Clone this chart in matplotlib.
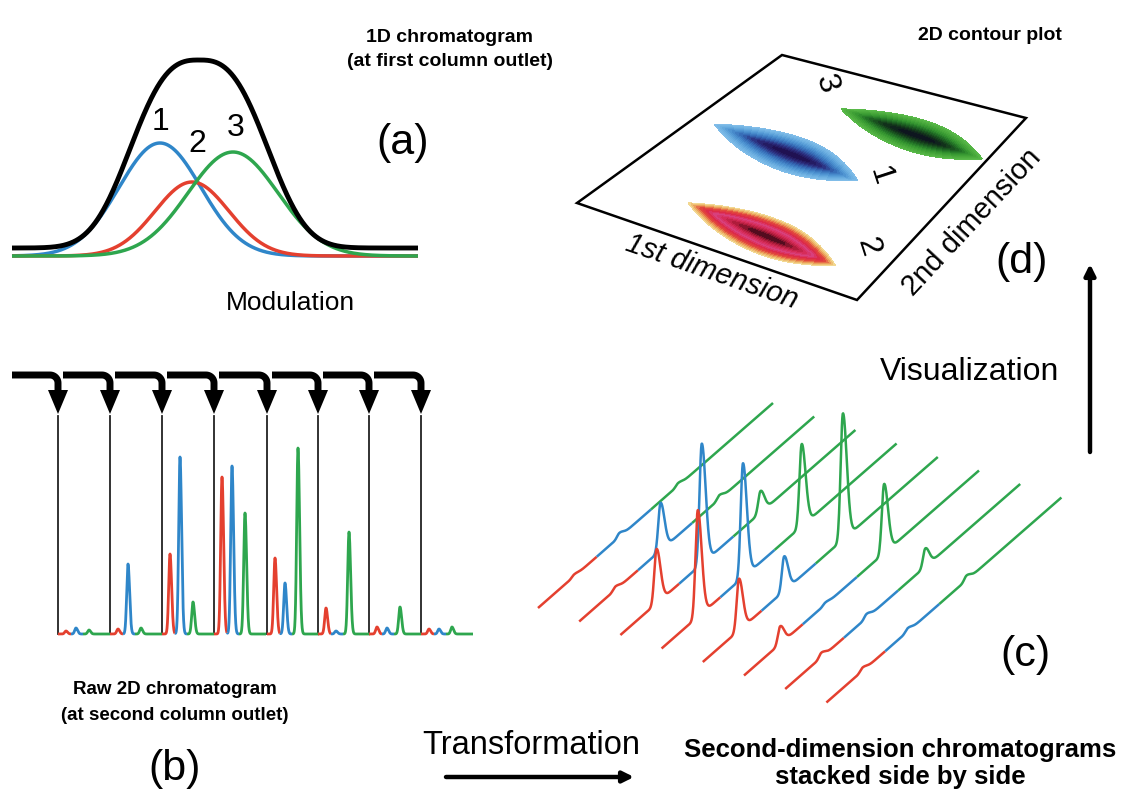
import numpy as np
import matplotlib
matplotlib.use("Agg")
import matplotlib.pyplot as plt
from matplotlib.patches import Polygon
from matplotlib.colors import LinearSegmentedColormap

W, H = 1125, 798
BLUE = "#2f86c9"
RED = "#e4402f"
GREEN = "#2ea64e"
FONT = "Liberation Sans"

# ---------------- (a) first-dimension chromatogram ----------------
a_labels = ["1", "2", "3"]
a_centers = [160, 192, 233]
a_heights = [113, 74, 104]
a_sigmas = [41, 37, 45]
a_colors = [BLUE, RED, GREEN]
total_center, total_height, total_hwhm, total_shape = 199, 188, 71, 2.8

# ---------------- (b) modulated raw 2D chromatogram ----------------
mod_x = [58, 110, 162, 214, 267, 318, 369, 421]
period = 52
comp_offsets = [8, 18, 31]          # red, blue, green retention inside a period
comp_split = [13, 25]               # colour changes inside a period
h_red = [3, 5, 80, 157, 76, 26, 7, 5]
h_blue = [6, 70, 177, 168, 51, 3, 6, 5]
h_green = [4, 6, 32, 121, 186, 102, 27, 7]

# ---------------- (d) contour plot peaks (1st dim u, 2nd dim v) ----------------
blob_u = [0.40, 0.59, 0.71]
blob_v = [0.54, 0.14, 0.79]
blob_len_left = [0.32, 0.31, 0.32]
blob_len_right = [0.27, 0.26, 0.27]
blob_half_width = [0.085, 0.085, 0.075]
blob_tilt = [0.10, 0.10, 0.08]
blob_labels = ["1", "2", "3"]

fig = plt.figure(figsize=(W / 100, H / 100), dpi=100)
ax = fig.add_axes([0, 0, 1, 1])
ax.set_xlim(0, W)
ax.set_ylim(H, 0)
ax.axis("off")

# ---- (a)
xa = np.linspace(12, 418, 900)
base_a = 256
for c, h, s, col in zip(a_centers, a_heights, a_sigmas, a_colors):
    ax.plot(xa, base_a - h * np.exp(-(xa - c) ** 2 / (2 * s ** 2)), color=col, lw=2.5,
            solid_capstyle="butt")
total = total_height * np.exp(-np.log(2) * (np.abs(xa - total_center) / total_hwhm) ** total_shape)
ax.plot(xa, 248 - total, color="black", lw=3.5, solid_capstyle="butt")
for lab, x, y in zip(a_labels, [161, 197, 236], [122, 144, 128]):
    ax.text(x, y, lab, fontsize=23, family=FONT, ha="center", va="center")
ax.text(403, 143, "(a)", fontsize=31, family=FONT, ha="center", va="center")
ax.text(450, 37, "1D chromatogram", fontsize=14, family=FONT, weight="bold",
        ha="center", va="center")
ax.text(450, 61, "(at first column outlet)", fontsize=14, family=FONT, weight="bold",
        ha="center", va="center")
ax.text(290, 303, "Modulation", fontsize=19, family=FONT, ha="center", va="center")

# ---- (b) modulation arrows
y_bar, r = 375, 8
for i, xm in enumerate(mod_x):
    xs = 12 if i == 0 else mod_x[i - 1] + 5
    th = np.linspace(np.pi / 2, 0, 12)
    px = [xs] + list(xm - r + r * np.cos(th)) + [xm]
    py = [y_bar] + list(y_bar + r - r * np.sin(th)) + [393]
    ax.plot(px, py, color="black", lw=5.0, solid_capstyle="butt", solid_joinstyle="round")
    ax.add_patch(Polygon([(xm - 10, 390), (xm + 10, 390), (xm, 414)], closed=True,
                         color="black", lw=0))
    ax.plot([xm, xm], [416, 634], color="#222222", lw=1.3)


def raw_signal(xloc, heights_by_comp, sig_l, sig_r):
    """Signal of one modulation period on local coordinate xloc (0..period)."""
    y = np.zeros_like(xloc)
    for off, h in zip(comp_offsets, heights_by_comp):
        d = xloc - off
        s = np.where(d < 0, sig_l, sig_r)
        y += h * np.exp(-d ** 2 / (2 * s ** 2))
    return y


base_b = 634
seg_bounds = [0, comp_split[0], comp_split[1], period]
seg_cols = [RED, BLUE, GREEN]
for p, xm in enumerate(mod_x):
    hs = [h_red[p], h_blue[p], h_green[p]]
    for k in range(3):
        xl = np.linspace(seg_bounds[k], seg_bounds[k + 1], 200)
        yv = raw_signal(xl, hs, 1.3, 1.6)
        ax.plot(xm + xl, base_b - yv, color=seg_cols[k], lw=2.0, solid_capstyle="butt")

ax.text(175, 690, "Raw 2D chromatogram", fontsize=13.5, family=FONT, weight="bold",
        ha="center", va="center")
ax.text(175, 716, "(at second column outlet)", fontsize=13.5, family=FONT, weight="bold",
        ha="center", va="center")
ax.text(175, 769, "(b)", fontsize=31, family=FONT, ha="center", va="center")

# ---- transformation arrow and caption
ax.text(531, 745, "Transformation", fontsize=23.5, family=FONT, ha="center", va="center")
ax.annotate("", xy=(634, 777), xytext=(446, 777),
            arrowprops=dict(arrowstyle="-|>", lw=3.2, color="black", mutation_scale=16,
                            shrinkA=0, shrinkB=0))
ax.text(900, 750, "Second-dimension chromatograms", fontsize=18.5, family=FONT,
        weight="bold", ha="center", va="center")
ax.text(900, 777, "stacked side by side", fontsize=18.5, family=FONT, weight="bold",
        ha="center", va="center")

# ---- (c) second-dimension chromatograms stacked side by side
c_start_x, c_start_y = 538, 608
c_step_x, c_step_y = 41.2, 13.5
c_dx, c_dy = 235, -205
c_scale = 0.68
for p in range(len(mod_x)):
    hs = [c_scale * h_red[p], c_scale * h_blue[p], c_scale * h_green[p]]
    x0 = c_start_x + p * c_step_x
    y0 = c_start_y + p * c_step_y
    for k in range(3):
        xl = np.linspace(seg_bounds[k], seg_bounds[k + 1], 300)
        yv = raw_signal(xl, hs, 0.5, 0.85)
        t = xl / period
        ax.plot(x0 + t * c_dx, y0 + t * c_dy - yv, color=seg_cols[k], lw=1.8,
                solid_capstyle="butt")
ax.text(1025, 655, "(c)", fontsize=31, family=FONT, ha="center", va="center")

# ---- visualization arrow
ax.text(970, 372, "Visualization", fontsize=23, family=FONT, ha="center", va="center")
ax.annotate("", xy=(1090, 264), xytext=(1090, 452),
            arrowprops=dict(arrowstyle="-|>", lw=3.2, color="black", mutation_scale=16,
                            shrinkA=0, shrinkB=0))

# ---- (d) 2D contour plot drawn on a tilted plane
QL = np.array([577.0, 203.0])
QB = np.array([857.0, 300.0])
QR = np.array([1026.0, 118.0])
QT = np.array([782.0, 55.0])


def plane(u, v):
    x = (1 - u) * (1 - v) * QL[0] + u * (1 - v) * QB[0] + u * v * QR[0] + (1 - u) * v * QT[0]
    y = (1 - u) * (1 - v) * QL[1] + u * (1 - v) * QB[1] + u * v * QR[1] + (1 - u) * v * QT[1]
    return x, y


ax.add_patch(Polygon([QL, QB, QR, QT], closed=True, fill=False, edgecolor="black", lw=1.8,
                     joinstyle="miter"))

cmaps = [
    LinearSegmentedColormap.from_list("c1", ["#84bfe9", "#6aaee0", "#4a90cf", "#3468b4",
                                             "#2b2c7c", "#1e0c4a"]),
    LinearSegmentedColormap.from_list("c2", ["#f4e4a0", "#ecae60", "#e24a3c", "#dc2a48",
                                             "#d8407e", "#d62a56", "#a81a36", "#3c0818"]),
    LinearSegmentedColormap.from_list("c3", ["#5cbc4c", "#4aaa3c", "#349530", "#1f6a24",
                                             "#13381a", "#0d1020"]),
]
for i in range(3):
    uu = np.linspace(blob_u[i] - 0.36, blob_u[i] + 0.36, 500)
    vv = np.linspace(blob_v[i] - 0.2, blob_v[i] + 0.2, 260)
    U, V = np.meshgrid(uu, vv)
    du = U - blob_u[i]
    dv = V - blob_v[i] + blob_tilt[i] * du
    a = np.where(du < 0, blob_len_left[i], blob_len_right[i])
    Z = 1 - ((du / a) ** 2 + np.abs(dv) / blob_half_width[i])
    X, Y = plane(U, V)
    cs = ax.contourf(X, Y, Z, levels=np.linspace(0.0, 1.0, 16), cmap=cmaps[i],
                     antialiased=False)
    cs.set_edgecolor("face")
    cs.set_linewidth(0.6)

for lab, x, y in zip(blob_labels, [880, 868, 826], [176, 247, 84]):
    ax.text(x, y, lab, fontsize=23, family=FONT, ha="center", va="center", rotation=-72)
ax.text(712, 272, "1st dimension", fontsize=21, family=FONT, style="italic",
        ha="center", va="center", rotation=-19)
ax.text(972, 222, "2nd dimension", fontsize=21, family=FONT, ha="center", va="center",
        rotation=47)
ax.text(990, 36, "2D contour plot", fontsize=14, family=FONT, weight="bold",
        ha="center", va="center")
ax.text(1022, 262, "(d)", fontsize=31, family=FONT, ha="center", va="center")

fig.savefig("out.png", dpi=100)
